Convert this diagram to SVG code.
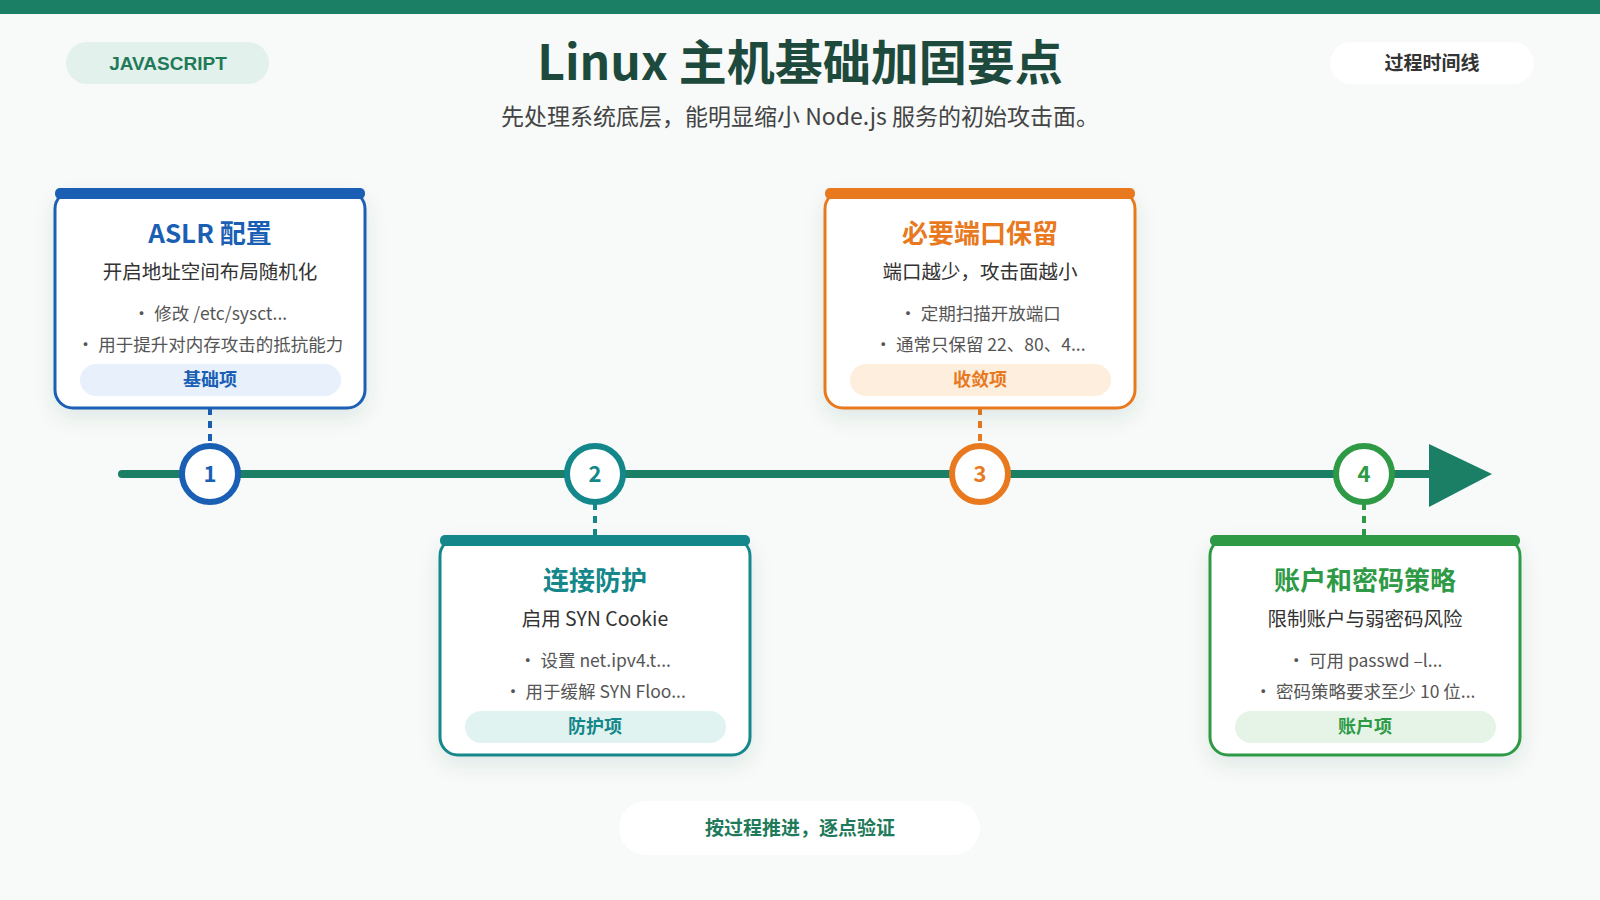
<svg xmlns="http://www.w3.org/2000/svg" width="1600" height="900" viewBox="0 0 1600 900">
<defs>
<filter id="sh" x="-20%" y="-20%" width="140%" height="150%"><feDropShadow dx="0" dy="8" stdDeviation="10" flood-color="#1d4a3c" flood-opacity="0.1"/></filter>
</defs>
<style>
text{font-family:"Noto Sans CJK SC","Noto Sans",sans-serif;text-anchor:middle}
.t{font-size:26px;font-weight:700}
.s{font-size:19.5px;fill:#333}
.b{font-size:17.5px;fill:#555}
.p{font-size:18px;font-weight:700}
.n{font-size:22px;font-weight:700}
.card{fill:#fff;stroke-width:3}
</style>
<rect width="1600" height="900" fill="#f7faf9"/>
<rect width="1600" height="14" fill="#1a7f64"/>
<rect x="66" y="42" width="203" height="42" rx="21" fill="#e3f1ec"/>
<text x="168" y="70" style="font-family:'Liberation Sans',sans-serif;font-size:19px;font-weight:700;fill:#1f7a5a">JAVASCRIPT</text>
<text x="800" y="80" style="font-size:48px;font-weight:700;fill:#1d4a3c">Linux 主机基础加固要点</text>
<text x="800" y="125" style="font-size:23px;fill:#444">先处理系统底层，能明显缩小 Node.js 服务的初始攻击面。</text>
<rect x="1330" y="42" width="204" height="42" rx="21" fill="#fff"/>
<text x="1432" y="70" style="font-size:19px;font-weight:700;fill:#333">过程时间线</text>
<g id="connectors">
<line x1="122" y1="474" x2="1432" y2="474" stroke="#1a7f64" stroke-width="8" stroke-linecap="round"/>
<polygon points="1429,444 1492,474 1429,507" fill="#1a7f64"/>
<line x1="210" y1="408" x2="210" y2="445" stroke="#1a5fb4" stroke-width="4" stroke-dasharray="7,6"/>
<line x1="595" y1="503" x2="595" y2="536" stroke="#13878a" stroke-width="4" stroke-dasharray="7,6"/>
<line x1="980" y1="408" x2="980" y2="445" stroke="#e8791e" stroke-width="4" stroke-dasharray="7,6"/>
<line x1="1364" y1="503" x2="1364" y2="536" stroke="#2e9a46" stroke-width="4" stroke-dasharray="7,6"/>
</g>
<g id="m1"><circle cx="210" cy="474" r="28" fill="#fff" stroke="#1a5fb4" stroke-width="6"/><text x="210" y="482" class="n" fill="#1a5fb4">1</text></g>
<g id="m2"><circle cx="595" cy="474" r="28" fill="#fff" stroke="#13878a" stroke-width="6"/><text x="595" y="482" class="n" fill="#13878a">2</text></g>
<g id="m3"><circle cx="980" cy="474" r="28" fill="#fff" stroke="#e8791e" stroke-width="6"/><text x="980" y="482" class="n" fill="#e8791e">3</text></g>
<g id="m4"><circle cx="1364" cy="474" r="28" fill="#fff" stroke="#2e9a46" stroke-width="6"/><text x="1364" y="482" class="n" fill="#2e9a46">4</text></g>
<g id="card1">
<rect x="55" y="191" width="310" height="217" rx="18" class="card" stroke="#1a5fb4" filter="url(#sh)"/>
<rect x="55" y="188" width="310" height="11" rx="5" fill="#1a5fb4"/>
<text x="210" y="243" class="t" fill="#1a5fb4">ASLR 配置</text>
<text x="210" y="279" class="s">开启地址空间布局随机化</text>
<text x="210" y="320" class="b">• 修改 /etc/sysct...</text>
<text x="210" y="351" class="b">• 用于提升对内存攻击的抵抗能力</text>
<rect x="80" y="364" width="261" height="32" rx="16" fill="#e8f0fc"/>
<text x="210" y="386" class="p" fill="#1a5fb4">基础项</text>
</g>
<g id="card2">
<rect x="440" y="538" width="310" height="217" rx="18" class="card" stroke="#13878a" filter="url(#sh)"/>
<rect x="440" y="535" width="310" height="11" rx="5" fill="#13878a"/>
<text x="595" y="590" class="t" fill="#13878a">连接防护</text>
<text x="595" y="626" class="s">启用 SYN Cookie</text>
<text x="595" y="667" class="b">• 设置 net.ipv4.t...</text>
<text x="595" y="698" class="b">• 用于缓解 SYN Floo...</text>
<rect x="465" y="711" width="261" height="32" rx="16" fill="#e0f3f0"/>
<text x="595" y="733" class="p" fill="#13878a">防护项</text>
</g>
<g id="card3">
<rect x="825" y="191" width="310" height="217" rx="18" class="card" stroke="#e8791e" filter="url(#sh)"/>
<rect x="825" y="188" width="310" height="11" rx="5" fill="#e8791e"/>
<text x="980" y="243" class="t" fill="#e8791e">必要端口保留</text>
<text x="980" y="279" class="s">端口越少，攻击面越小</text>
<text x="980" y="320" class="b">• 定期扫描开放端口</text>
<text x="980" y="351" class="b">• 通常只保留 22、80、4...</text>
<rect x="850" y="364" width="261" height="32" rx="16" fill="#fdeedd"/>
<text x="980" y="386" class="p" fill="#e8791e">收敛项</text>
</g>
<g id="card4">
<rect x="1210" y="538" width="310" height="217" rx="18" class="card" stroke="#2e9a46" filter="url(#sh)"/>
<rect x="1210" y="535" width="310" height="11" rx="5" fill="#2e9a46"/>
<text x="1365" y="590" class="t" fill="#2e9a46">账户和密码策略</text>
<text x="1365" y="626" class="s">限制账户与弱密码风险</text>
<text x="1365" y="667" class="b">• 可用 passwd –l...</text>
<text x="1365" y="698" class="b">• 密码策略要求至少 10 位...</text>
<rect x="1235" y="711" width="261" height="32" rx="16" fill="#e5f4e7"/>
<text x="1365" y="733" class="p" fill="#2e9a46">账户项</text>
</g>
<rect x="619" y="801" width="361" height="54" rx="27" fill="#fff"/>
<text x="800" y="835" style="font-size:19px;font-weight:700;fill:#1f7a5a">按过程推进，逐点验证</text>
</svg>
